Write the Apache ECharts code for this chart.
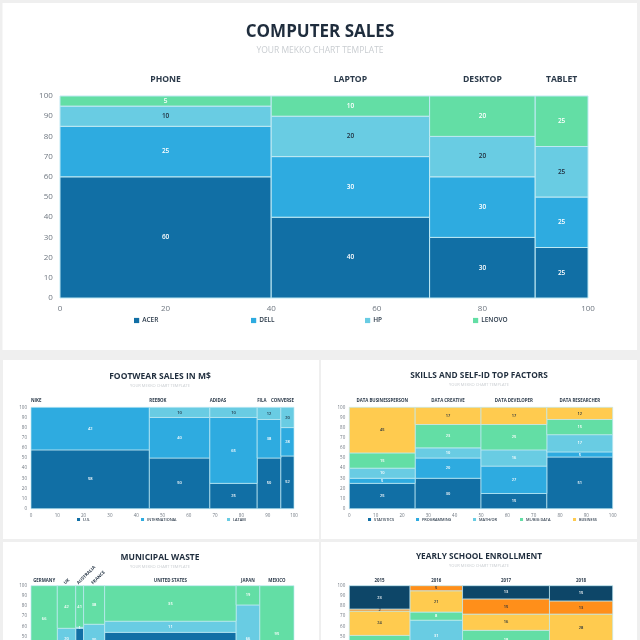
<!DOCTYPE html>
<html lang="en">

<head>
	<meta charset="UTF-8">
	<title>Mekko chart template</title>
	<style>
		html, body { margin: 0; padding: 0; background: #efefef; }
	</style>
</head>

<body>

	<div id="main" style="width:640px; height:640px;"></div>

	<script src="https://cdn.jsdelivr.net/npm/echarts@6/dist/echarts.min.js"></script>

	<script type="text/javascript">
		// computer sales
		var salesCats = ['PHONE', 'LAPTOP', 'DESKTOP', 'TABLET'];
		var salesWidths = [40, 30, 20, 10];
		var salesAcer = [60, 40, 30, 25];
		var salesDell = [25, 30, 30, 25];
		var salesHp = [10, 20, 20, 25];
		var salesLenovo = [5, 10, 20, 25];

		// footwear
		var shoeCats = ['NIKE', 'REEBOK', 'ADIDAS', 'FILA', 'CONVERSE'];
		var shoeWidths = [45, 23, 18, 9, 5];
		var shoeUs = [58, 50, 25, 50, 52];
		var shoeIntl = [42, 40, 65, 38, 28];
		var shoeLatam = [0, 10, 10, 12, 20];

		// skills
		var skillCats = ['DATA BUSINESSPERSON', 'DATA CREATIVE', 'DATA DEVELOPER', 'DATA RESEARCHER'];
		var skillWidths = [25, 25, 25, 25];
		var skillStats = [25, 30, 15, 51];
		var skillProg = [5, 20, 27, 5];
		var skillMath = [10, 10, 16, 17];
		var skillMl = [15, 23, 25, 15];
		var skillBusiness = [45, 17, 17, 12];

		// municipal waste, the lower part is cut off by the picture
		var wasteCats = ['GERMANY', 'UK', 'AUSTRALIA', 'FRANCE', 'UNITED STATES', 'JAPAN', 'MEXICO'];
		var wasteWidths = [10, 7, 3, 8, 50, 9, 13];
		var wasteLower = [14, 38, 58, 32, 54, 15, 5];
		var wasteMiddle = [20, 20, 1, 30, 11, 66, 0];
		var wasteUpper = [66, 42, 41, 38, 35, 19, 95];

		// school enrollment, same thing
		var schoolCats = ['2015', '2016', '2017', '2018'];
		var schoolWidths = [23, 20, 33, 24];
		var schoolA = [6, 15, 10, 8];
		var schoolB = [10, 20, 14, 10];
		var schoolC = [15, 31, 14, 12];
		var schoolD = [20, 8, 18, 14];
		var schoolE = [24, 21, 16, 28];
		var schoolF = [2, 5, 15, 13];
		var schoolG = [23, 0, 13, 15];

		var DARK = '#116fa5', MID = '#2eabe0', LIGHT = '#69cce3', GREEN = '#63dea5';
		var YELLOW = '#ffcb4f', ORANGE = '#ff8f1a', NAVY = '#0d4668';
		var INK = '#1f2d3d';
		var FONT = '"Open Sans", sans-serif';

		var panels = [{
			title: 'COMPUTER SALES', cx: 320, titleTop: 24, titleSize: 17, subSize: 8.5, titleGap: 5.5,
			left: 60, right: 588, top: 96, height: 202,
			cats: salesCats, widths: salesWidths, catGap: 16, catSize: 8.6, tickSize: 8, tickStep: 20,
			valueSize: 6.5, border: 1, legendTop: 317, legendSize: 6.5,
			rows: [
				{ name: 'ACER', values: salesAcer, color: DARK, text: '#fff', legendLeft: 134 },
				{ name: 'DELL', values: salesDell, color: MID, text: '#fff', legendLeft: 251 },
				{ name: 'HP', values: salesHp, color: LIGHT, text: INK, legendLeft: 365 },
				{ name: 'LENOVO', values: salesLenovo, color: GREEN, text: '#fff', legendLeft: 473 }
			]
		}, {
			title: 'FOOTWEAR SALES IN M$', cx: 160, titleTop: 372, titleSize: 8.5, subSize: 4, titleGap: 3,
			left: 31, right: 294, top: 407.3, height: 101.4,
			cats: shoeCats, widths: shoeWidths, catAlign: 'left', catGap: 7, catSize: 4.4, tickSize: 4.5, tickStep: 10,
			valueSize: 4, border: 0.7, legendTop: 517.5, legendSize: 3.8,
			rows: [
				{ name: 'U.S.', values: shoeUs, color: DARK, text: '#fff', legendLeft: 77 },
				{ name: 'INTERNATIONAL', values: shoeIntl, color: MID, text: '#fff', legendLeft: 141 },
				{ name: 'LATAM', values: shoeLatam, color: LIGHT, text: INK, legendLeft: 227 }
			]
		}, {
			title: 'SKILLS AND SELF-ID TOP FACTORS', cx: 479, titleTop: 372, titleSize: 8.3, subSize: 4, titleGap: 3,
			left: 349.3, right: 612.7, top: 407.3, height: 101.4,
			cats: skillCats, widths: skillWidths, catGap: 7, catSize: 4.4, tickSize: 4.5, tickStep: 10,
			valueSize: 4, border: 0.7, legendTop: 517.5, legendSize: 3.8,
			rows: [
				{ name: 'STATISTICS', values: skillStats, color: DARK, text: '#fff', legendLeft: 368 },
				{ name: 'PROGRAMMING', values: skillProg, color: MID, text: '#fff', legendLeft: 416 },
				{ name: 'MATH/OR', values: skillMath, color: LIGHT, text: '#fff', legendLeft: 473 },
				{ name: 'ML/BIG DATA', values: skillMl, color: GREEN, text: '#fff', legendLeft: 520 },
				{ name: 'BUSINESS', values: skillBusiness, color: YELLOW, text: INK, legendLeft: 573 }
			]
		}, {
			title: 'MUNICIPAL WASTE', cx: 160, titleTop: 553, titleSize: 8.5, subSize: 4, titleGap: 3,
			left: 31, right: 294, top: 585.7, height: 101.4,
			cats: wasteCats, widths: wasteWidths, catGap: 5, catSize: 4.4, tickSize: 4.5, tickStep: 10,
			catRotate: [0, 1, 1, 1, 0, 0, 0],
			valueSize: 4, border: 0.7,
			rows: [
				{ name: 'WASTE LOWER', values: wasteLower, color: DARK, text: '#fff' },
				{ name: 'WASTE MIDDLE', values: wasteMiddle, color: LIGHT, text: '#fff' },
				{ name: 'WASTE UPPER', values: wasteUpper, color: GREEN, text: '#fff' }
			]
		}, {
			title: 'YEARLY SCHOOL ENROLLMENT', cx: 479, titleTop: 553, titleSize: 8.3, subSize: 4, titleGap: 3,
			left: 349.3, right: 612.7, top: 585.7, height: 101.4,
			cats: schoolCats, widths: schoolWidths, catGap: 5, catSize: 4.4, tickSize: 4.5, tickStep: 10,
			valueSize: 4, border: 0.7,
			rows: [
				{ name: 'SCHOOL A', values: schoolA, color: DARK, text: '#fff' },
				{ name: 'SCHOOL B', values: schoolB, color: MID, text: '#fff' },
				{ name: 'SCHOOL C', values: schoolC, color: LIGHT, text: '#fff' },
				{ name: 'SCHOOL D', values: schoolD, color: GREEN, text: '#fff' },
				{ name: 'SCHOOL E', values: schoolE, color: YELLOW, text: INK },
				{ name: 'SCHOOL F', values: schoolF, color: ORANGE, text: INK },
				{ name: 'SCHOOL G', values: schoolG, color: NAVY, text: '#fff' }
			]
		}];

		var cards = [
			[2.5, 3, 634.5, 347],
			[3, 360, 316, 179],
			[321, 360, 316, 179],
			[3, 542, 316, 98],
			[321, 542, 316, 98]
		];

		function columnEdges(widths) {
			var edges = [0];
			widths.forEach(function(w, i) { edges.push(edges[i] + w); });
			return edges;
		}

		// one custom series per row, each column is a rect on the value axes
		function rowSeries(panel, gridIndex, rowIndex) {
			var row = panel.rows[rowIndex];
			var edges = columnEdges(panel.widths);
			var data = [];
			row.values.forEach(function(v, col) {
				var base = 0;
				for (var r = 0; r < rowIndex; r++) base += panel.rows[r].values[col];
				if (v > 0) data.push([edges[col], edges[col + 1], base, base + v, v]);
			});
			return {
				name: row.name,
				type: 'custom',
				xAxisIndex: gridIndex,
				yAxisIndex: gridIndex,
				itemStyle: { color: row.color },
				encode: { x: [0, 1], y: [2, 3] },
				data: data,
				silent: true,
				renderItem: function(params, api) {
					var a = api.coord([api.value(0), api.value(3)]);
					var b = api.coord([api.value(1), api.value(2)]);
					return {
						type: 'rect',
						shape: { x: a[0], y: a[1], width: b[0] - a[0], height: b[1] - a[1] },
						style: { fill: row.color, stroke: '#bfe9f3', lineWidth: panel.border },
						textContent: {
							style: {
								text: String(api.value(4)),
								fill: row.text,
								font: '600 ' + panel.valueSize + 'px ' + FONT
							}
						},
						textConfig: { position: 'inside' }
					};
				}
			};
		}

		// the headers above the columns
		function catSeries(panel, gridIndex) {
			var edges = columnEdges(panel.widths);
			return {
				name: 'headers',
				type: 'custom',
				xAxisIndex: gridIndex,
				yAxisIndex: gridIndex,
				silent: true,
				clip: false,
				data: panel.widths.map(function(w, i) { return [edges[i] + w / 2, 100, edges[i]]; }),
				encode: { x: 0, y: 1 },
				renderItem: function(params, api) {
					var i = params.dataIndex;
					var rotated = panel.catRotate && panel.catRotate[i];
					var atLeft = panel.catAlign === 'left';
					var isLast = i === panel.cats.length - 1;
					// footwear headers sit on the column's left edge, the last one ends at the plot edge
					var xValue = atLeft ? (isLast ? 100 : api.value(2)) : api.value(0);
					var p = api.coord([xValue, 100]);
					return {
						type: 'text',
						x: p[0] + (rotated ? -2 : 0),
						y: p[1] - (rotated ? 2 : panel.catGap),
						rotation: rotated ? Math.PI / 4 : 0,
						style: {
							text: panel.cats[i],
							fill: '#2b3a4a',
							font: 'bold ' + panel.catSize + 'px ' + FONT,
							align: rotated || (atLeft && !isLast) ? 'left' : (isLast && atLeft ? 'right' : 'center'),
							verticalAlign: 'middle'
						}
					};
				}
			};
		}

		var option = {
			animation: false,
			backgroundColor: '#efefef',
			graphic: cards.map(function(c) {
				return {
					type: 'rect', z: -10, silent: true,
					shape: { x: c[0], y: c[1], width: c[2], height: c[3] },
					style: { fill: '#fff' }
				};
			}),
			title: [], grid: [], xAxis: [], yAxis: [], legend: [], series: []
		};

		panels.forEach(function(panel, g) {
			option.title.push({
				text: panel.title,
				subtext: 'YOUR MEKKO CHART TEMPLATE',
				left: panel.cx,
				top: panel.titleTop,
				textAlign: 'center',
				padding: 0,
				itemGap: panel.titleGap,
				textStyle: { color: INK, fontFamily: FONT, fontWeight: 'bold', fontSize: panel.titleSize },
				subtextStyle: { color: '#c9cdd1', fontFamily: FONT, fontSize: panel.subSize }
			});
			option.grid.push({
				left: panel.left,
				top: panel.top,
				width: panel.right - panel.left,
				height: panel.height,
				outerBoundsMode: 'none'
			});
			var axisBase = {
				type: 'value',
				gridIndex: g,
				min: 0,
				max: 100,
				axisLine: { show: false },
				axisTick: { show: false },
				splitLine: { show: false },
				axisLabel: { color: '#6f7780', fontFamily: FONT, fontSize: panel.tickSize, margin: panel.tickSize * 0.9 }
			};
			option.xAxis.push(Object.assign({}, axisBase, { interval: panel.tickStep }));
			option.yAxis.push(Object.assign({}, axisBase, { interval: 10 }));
			panel.rows.forEach(function(row, r) {
				option.series.push(rowSeries(panel, g, r));
				if (row.legendLeft !== undefined) {
					option.legend.push({
						data: [row.name],
						left: row.legendLeft,
						top: panel.legendTop,
						padding: 0,
						icon: 'rect',
						itemWidth: panel.legendSize * 0.8,
						itemHeight: panel.legendSize * 0.8,
						selectedMode: false,
						textStyle: { color: '#2b3a4a', fontFamily: FONT, fontWeight: 600, fontSize: panel.legendSize, padding: [0, 0, 0, -2] }
					});
				}
			});
			option.series.push(catSeries(panel, g));
		});

		var myChart = echarts.init(document.getElementById('main'), null, { renderer: 'canvas' });
		myChart.setOption(option);
	</script>

</body>

</html>
